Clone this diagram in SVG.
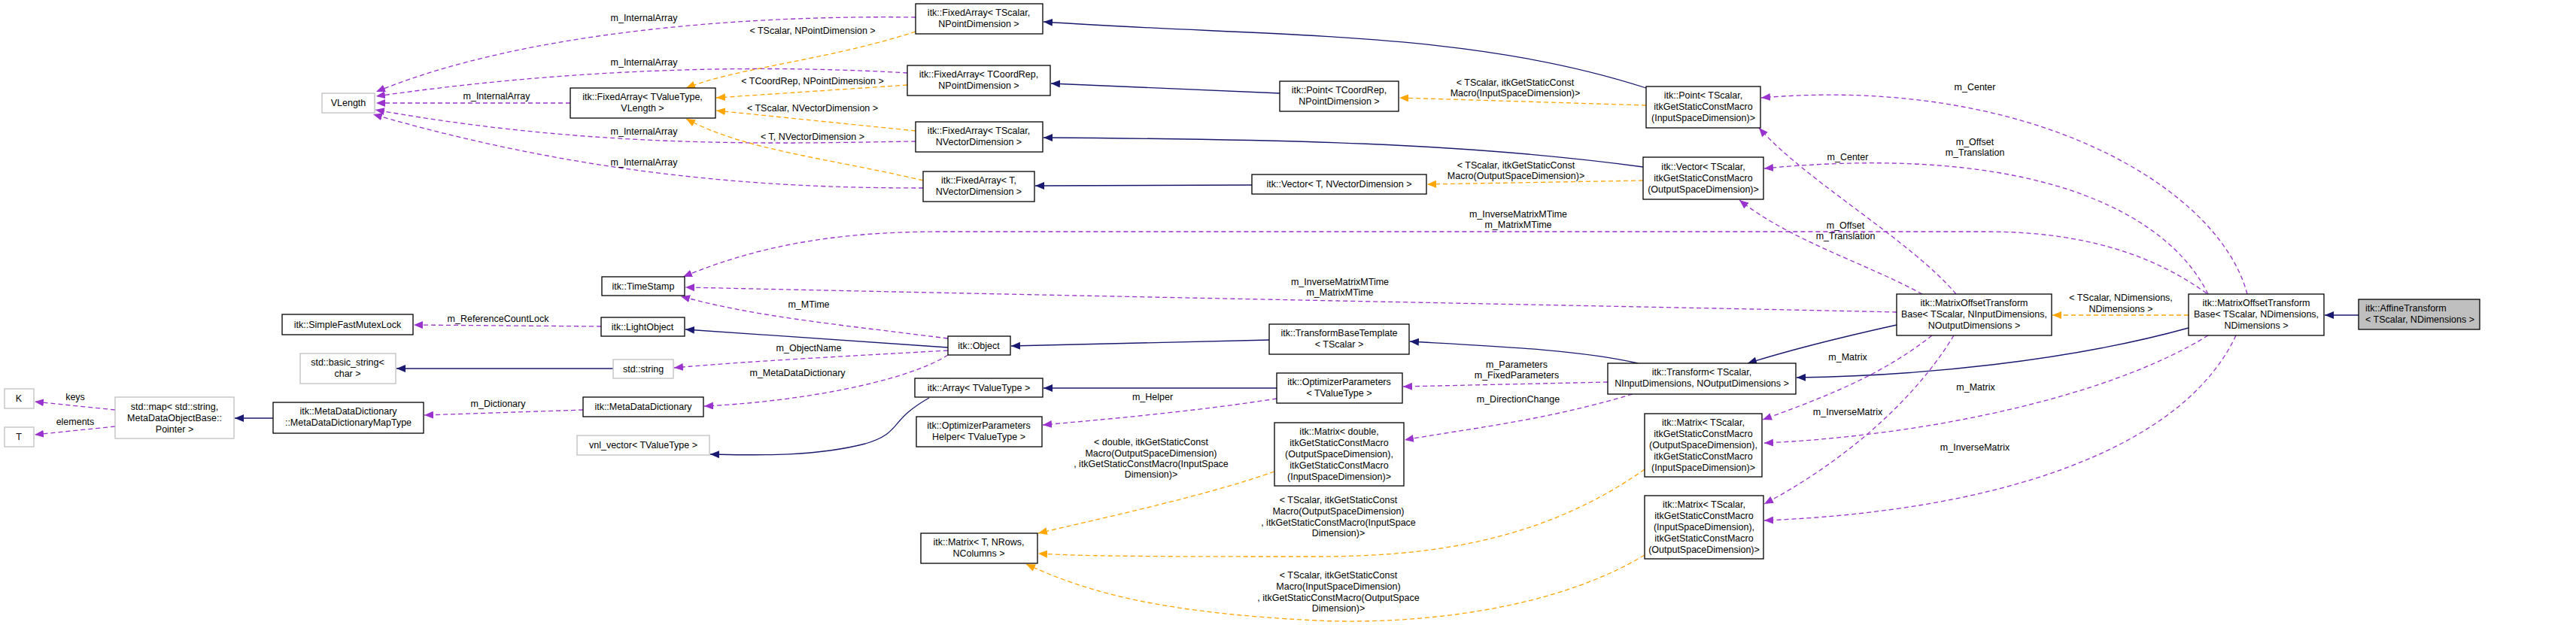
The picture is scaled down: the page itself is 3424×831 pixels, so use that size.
<svg xmlns="http://www.w3.org/2000/svg" width="3424" height="831" viewBox="0 0 3424 831">
<style>
text{font-family:"Liberation Sans",Arial,sans-serif;font-size:12.5px;fill:#000}
.n rect{fill:#fff;stroke:#000;stroke-width:1.3}
.g rect{fill:#fff;stroke:#bfbfbf;stroke-width:1.3}
.n text,.g text,.c text{text-anchor:middle}
.s{fill:none;stroke:#191970;stroke-width:1.3}
.p{fill:none;stroke:#9a32cd;stroke-width:1.3;stroke-dasharray:6,4}
.o{fill:none;stroke:#ffa500;stroke-width:1.3;stroke-dasharray:6,4}
</style>
<defs>
<marker id="ms" viewBox="0 0 12 10" refX="12" refY="5" markerWidth="12" markerHeight="10" markerUnits="userSpaceOnUse" orient="auto"><path d="M0,0L12,5L0,10z" fill="#191970"/></marker>
<marker id="mp" viewBox="0 0 12 10" refX="12" refY="5" markerWidth="12" markerHeight="10" markerUnits="userSpaceOnUse" orient="auto"><path d="M0,0L12,5L0,10z" fill="#9a32cd"/></marker>
<marker id="mo" viewBox="0 0 12 10" refX="12" refY="5" markerWidth="12" markerHeight="10" markerUnits="userSpaceOnUse" orient="auto"><path d="M0,0L12,5L0,10z" fill="#ffa500"/></marker>
</defs>
<rect width="3424" height="831" fill="#fff"/>
<g id="connectors" class="c">
<path class="p" marker-end="url(#mp)" d="M1217,23 C1000,20 700,40 500,122"/>
<text x="856" y="28">m_InternalArray</text>
<path class="p" marker-end="url(#mp)" d="M1206,97 C1050,88 800,85 500,128"/>
<text x="856" y="87">m_InternalArray</text>
<path class="p" marker-end="url(#mp)" d="M758,137 L500,137"/>
<text x="660" y="132">m_InternalArray</text>
<path class="p" marker-end="url(#mp)" d="M1217,188 C1050,190 800,200 499,146"/>
<text x="856" y="179">m_InternalArray</text>
<path class="p" marker-end="url(#mp)" d="M1227,250 C1050,250 800,240 496,152"/>
<text x="856" y="220">m_InternalArray</text>
<path class="o" marker-end="url(#mo)" d="M1217,42 C1100,80 980,90 912,117"/>
<text x="1080" y="45">&lt; TScalar, NPointDimension &gt;</text>
<path class="o" marker-end="url(#mo)" d="M1206,113 L952,130"/>
<text x="1080" y="112">&lt; TCoordRep, NPointDimension &gt;</text>
<path class="o" marker-end="url(#mo)" d="M1217,174 L952,147"/>
<text x="1080" y="148">&lt; TScalar, NVectorDimension &gt;</text>
<path class="o" marker-end="url(#mo)" d="M1227,240 C1100,210 990,200 912,158"/>
<text x="1080" y="186">&lt; T, NVectorDimension &gt;</text>
<path class="s" marker-end="url(#ms)" d="M2188,117 C1950,40 1700,50 1387,29"/>
<path class="s" marker-end="url(#ms)" d="M1701,124 L1397,111"/>
<path class="s" marker-end="url(#ms)" d="M2184,222 C1950,190 1700,185 1387,183"/>
<path class="s" marker-end="url(#ms)" d="M1664,246 L1376,247"/>
<path class="o" marker-end="url(#mo)" d="M2188,140 L1860,130"/>
<text x="2014" y="114">&lt; TScalar, itkGetStaticConst</text>
<text x="2014" y="128">Macro(InputSpaceDimension)&gt;</text>
<path class="o" marker-end="url(#mo)" d="M2184,240 L1897,245"/>
<text x="2015" y="224">&lt; TScalar, itkGetStaticConst</text>
<text x="2015" y="238">Macro(OutputSpaceDimension)&gt;</text>
<path class="p" marker-end="url(#mp)" d="M2987,391 C2950,250 2700,100 2341,130"/>
<text x="2625" y="120">m_Center</text>
<path class="p" marker-end="url(#mp)" d="M2600,391 C2540,320 2400,240 2338,170"/>
<text x="2456" y="213">m_Center</text>
<path class="p" marker-end="url(#mp)" d="M2935,391 C2880,280 2700,190 2345,224"/>
<text x="2625" y="193">m_Offset</text>
<text x="2625" y="207">m_Translation</text>
<path class="p" marker-end="url(#mp)" d="M2555,391 C2480,350 2380,320 2312,266"/>
<text x="2453" y="304">m_Offset</text>
<text x="2453" y="318">m_Translation</text>
<path class="p" marker-end="url(#mp)" d="M2933,390 C2850,330 2750,308 2640,308 L1250,308 C1100,308 1000,330 908,368"/>
<text x="2018" y="289">m_InverseMatrixMTime</text>
<text x="2018" y="303">m_MatrixMTime</text>
<path class="p" marker-end="url(#mp)" d="M2521,415 C2300,410 1500,395 911,382"/>
<text x="1781" y="379">m_InverseMatrixMTime</text>
<text x="1781" y="393">m_MatrixMTime</text>
<path class="p" marker-end="url(#mp)" d="M1260,450 C1100,430 1000,420 905,394"/>
<text x="1075" y="409">m_MTime</text>
<path class="s" marker-end="url(#ms)" d="M1260,462 L911,438"/>
<path class="p" marker-end="url(#mp)" d="M799,434 L550,432"/>
<text x="662" y="428">m_ReferenceCountLock</text>
<path class="p" marker-end="url(#mp)" d="M1260,466 C1100,475 1000,480 896,489"/>
<text x="1075" y="467">m_ObjectName</text>
<path class="s" marker-end="url(#ms)" d="M815,490 L527,490"/>
<path class="p" marker-end="url(#mp)" d="M1260,472 C1200,510 1050,535 936,540"/>
<text x="1060" y="500">m_MetaDataDictionary</text>
<path class="p" marker-end="url(#mp)" d="M775,545 L564,552"/>
<text x="662" y="541">m_Dictionary</text>
<path class="s" marker-end="url(#ms)" d="M363,556 L312,556"/>
<path class="p" marker-end="url(#mp)" d="M153,545 L46,534"/>
<text x="100" y="532">keys</text>
<path class="p" marker-end="url(#mp)" d="M153,567 L46,578"/>
<text x="100" y="565">elements</text>
<path class="s" marker-end="url(#ms)" d="M1235,529 C1180,560 1200,575 1150,590 C1080,608 1000,605 944,604"/>
<path class="s" marker-end="url(#ms)" d="M1687,452 L1344,460"/>
<path class="s" marker-end="url(#ms)" d="M1697,516 L1387,516"/>
<path class="p" marker-end="url(#mp)" d="M1697,530 C1600,545 1500,555 1386,565"/>
<text x="1532" y="532">m_Helper</text>
<path class="s" marker-end="url(#ms)" d="M2177,483 C2100,465 1980,460 1874,454"/>
<path class="p" marker-end="url(#mp)" d="M2137,508 L1865,514"/>
<text x="2016" y="489">m_Parameters</text>
<text x="2016" y="503">m_FixedParameters</text>
<path class="p" marker-end="url(#mp)" d="M2170,524 C2050,560 1950,570 1867,585"/>
<text x="2018" y="535">m_DirectionChange</text>
<path class="o" marker-end="url(#mo)" d="M1694,627 C1600,660 1460,690 1380,709"/>
<text x="1530" y="592">&lt; double, itkGetStaticConst</text>
<text x="1530" y="607">Macro(OutputSpaceDimension)</text>
<text x="1530" y="621">, itkGetStaticConstMacro(InputSpace</text>
<text x="1530" y="635">Dimension)&gt;</text>
<path class="o" marker-end="url(#mo)" d="M2186,624 C2050,720 1900,740 1750,740 C1550,740 1450,740 1380,736"/>
<text x="1779" y="669">&lt; TScalar, itkGetStaticConst</text>
<text x="1779" y="684">Macro(OutputSpaceDimension)</text>
<text x="1779" y="699">, itkGetStaticConstMacro(InputSpace</text>
<text x="1779" y="713">Dimension)&gt;</text>
<path class="o" marker-end="url(#mo)" d="M2186,738 C2050,820 1850,830 1750,825 C1550,815 1450,790 1364,750"/>
<text x="1779" y="769">&lt; TScalar, itkGetStaticConst</text>
<text x="1779" y="784">Macro(InputSpaceDimension)</text>
<text x="1779" y="799">, itkGetStaticConstMacro(OutputSpace</text>
<text x="1779" y="813">Dimension)&gt;</text>
<path class="s" marker-end="url(#ms)" d="M2521,432 C2440,450 2380,465 2323,483"/>
<path class="s" marker-end="url(#ms)" d="M2909,436 C2750,480 2550,500 2388,502"/>
<path class="o" marker-end="url(#mo)" d="M2909,419 L2728,419"/>
<text x="2819" y="400">&lt; TScalar, NDimensions,</text>
<text x="2819" y="415">NDimensions &gt;</text>
<path class="s" marker-end="url(#ms)" d="M3135,419 L3090,419"/>
<path class="p" marker-end="url(#mp)" d="M2568,446 C2500,500 2420,530 2343,558"/>
<text x="2456" y="479">m_Matrix</text>
<path class="p" marker-end="url(#mp)" d="M2597,446 C2540,540 2440,620 2345,670"/>
<text x="2456" y="552">m_InverseMatrix</text>
<path class="p" marker-end="url(#mp)" d="M2935,446 C2800,530 2550,580 2345,589"/>
<text x="2626" y="519">m_Matrix</text>
<path class="p" marker-end="url(#mp)" d="M2972,446 C2900,600 2650,680 2345,692"/>
<text x="2625" y="599">m_InverseMatrix</text>
</g>
<g id="VLength" class="g"><rect x="428" y="124" width="70" height="26"/><text x="463" y="141">VLength</text></g>
<g id="FixedArrayTValueType" class="n"><rect x="758" y="117" width="193" height="40"/><text x="854" y="133">itk::FixedArray&lt; TValueType,</text><text x="854" y="148">VLength &gt;</text></g>
<g id="FixedArrayTScalarNPoint" class="n"><rect x="1217" y="5" width="169" height="40"/><text x="1301" y="21">itk::FixedArray&lt; TScalar,</text><text x="1301" y="36">NPointDimension &gt;</text></g>
<g id="FixedArrayTCoordRep" class="n"><rect x="1206" y="87" width="190" height="40"/><text x="1301" y="103">itk::FixedArray&lt; TCoordRep,</text><text x="1301" y="118">NPointDimension &gt;</text></g>
<g id="PointTCoordRep" class="n"><rect x="1701" y="108" width="158" height="40"/><text x="1780" y="124">itk::Point&lt; TCoordRep,</text><text x="1780" y="139">NPointDimension &gt;</text></g>
<g id="FixedArrayTScalarNVector" class="n"><rect x="1217" y="162" width="169" height="40"/><text x="1301" y="178">itk::FixedArray&lt; TScalar,</text><text x="1301" y="193">NVectorDimension &gt;</text></g>
<g id="FixedArrayT" class="n"><rect x="1227" y="228" width="148" height="40"/><text x="1301" y="244">itk::FixedArray&lt; T,</text><text x="1301" y="259">NVectorDimension &gt;</text></g>
<g id="VectorT" class="n"><rect x="1664" y="232" width="232" height="26"/><text x="1780" y="249">itk::Vector&lt; T, NVectorDimension &gt;</text></g>
<g id="PointTScalar" class="n"><rect x="2188" y="115" width="152" height="55"/><text x="2264" y="131">itk::Point&lt; TScalar,</text><text x="2264" y="146">itkGetStaticConstMacro</text><text x="2264" y="161">(InputSpaceDimension)&gt;</text></g>
<g id="VectorTScalar" class="n"><rect x="2184" y="209" width="160" height="56"/><text x="2264" y="226">itk::Vector&lt; TScalar,</text><text x="2264" y="241">itkGetStaticConstMacro</text><text x="2264" y="256">(OutputSpaceDimension)&gt;</text></g>
<g id="TimeStamp" class="n"><rect x="800" y="368" width="110" height="25"/><text x="855" y="385">itk::TimeStamp</text></g>
<g id="SimpleFastMutexLock" class="n"><rect x="375" y="418" width="174" height="27"/><text x="462" y="436">itk::SimpleFastMutexLock</text></g>
<g id="LightObject" class="n"><rect x="799" y="422" width="111" height="25"/><text x="854" y="439">itk::LightObject</text></g>
<g id="basic_string" class="g"><rect x="399" y="470" width="127" height="40"/><text x="462" y="486">std::basic_string&lt;</text><text x="462" y="501">char &gt;</text></g>
<g id="stdstring" class="g"><rect x="815" y="478" width="80" height="25"/><text x="855" y="495">std::string</text></g>
<g id="K" class="g"><rect x="6" y="517" width="39" height="26"/><text x="25" y="534">K</text></g>
<g id="T" class="g"><rect x="6" y="568" width="39" height="26"/><text x="25" y="585">T</text></g>
<g id="stdmap" class="g"><rect x="153" y="528" width="158" height="55"/><text x="232" y="545">std::map&lt; std::string,</text><text x="232" y="560">MetaDataObjectBase::</text><text x="232" y="575">Pointer &gt;</text></g>
<g id="MapType" class="n"><rect x="363" y="535" width="200" height="41"/><text x="463" y="551">itk::MetaDataDictionary</text><text x="463" y="566">::MetaDataDictionaryMapType</text></g>
<g id="MetaDataDictionary" class="n"><rect x="775" y="528" width="160" height="26"/><text x="855" y="545">itk::MetaDataDictionary</text></g>
<g id="vnl_vector" class="g"><rect x="767" y="579" width="176" height="26"/><text x="855" y="596">vnl_vector&lt; TValueType &gt;</text></g>
<g id="Object" class="n"><rect x="1260" y="447" width="83" height="25"/><text x="1301" y="464">itk::Object</text></g>
<g id="TransformBaseTemplate" class="n"><rect x="1687" y="431" width="186" height="40"/><text x="1780" y="447">itk::TransformBaseTemplate</text><text x="1780" y="462">&lt; TScalar &gt;</text></g>
<g id="Array" class="n"><rect x="1216" y="503" width="170" height="25"/><text x="1301" y="520">itk::Array&lt; TValueType &gt;</text></g>
<g id="OptimizerParameters" class="n"><rect x="1697" y="496" width="167" height="40"/><text x="1780" y="512">itk::OptimizerParameters</text><text x="1780" y="527">&lt; TValueType &gt;</text></g>
<g id="OptimizerParametersHelper" class="n"><rect x="1218" y="554" width="167" height="40"/><text x="1301" y="570">itk::OptimizerParameters</text><text x="1301" y="585">Helper&lt; TValueType &gt;</text></g>
<g id="MatrixDouble" class="n"><rect x="1694" y="562" width="172" height="84"/><text x="1780" y="578">itk::Matrix&lt; double,</text><text x="1780" y="593">itkGetStaticConstMacro</text><text x="1780" y="608">(OutputSpaceDimension),</text><text x="1780" y="623">itkGetStaticConstMacro</text><text x="1780" y="638">(InputSpaceDimension)&gt;</text></g>
<g id="MatrixT" class="n"><rect x="1224" y="709" width="155" height="40"/><text x="1301" y="725">itk::Matrix&lt; T, NRows,</text><text x="1301" y="740">NColumns &gt;</text></g>
<g id="Transform" class="n"><rect x="2137" y="483" width="250" height="41"/><text x="2262" y="499">itk::Transform&lt; TScalar,</text><text x="2262" y="514">NInputDimensions, NOutputDimensions &gt;</text></g>
<g id="MatrixOutIn" class="n"><rect x="2186" y="550" width="156" height="84"/><text x="2264" y="566">itk::Matrix&lt; TScalar,</text><text x="2264" y="581">itkGetStaticConstMacro</text><text x="2264" y="596">(OutputSpaceDimension),</text><text x="2264" y="611">itkGetStaticConstMacro</text><text x="2264" y="626">(InputSpaceDimension)&gt;</text></g>
<g id="MatrixInOut" class="n"><rect x="2186" y="659" width="158" height="84"/><text x="2265" y="675">itk::Matrix&lt; TScalar,</text><text x="2265" y="690">itkGetStaticConstMacro</text><text x="2265" y="705">(InputSpaceDimension),</text><text x="2265" y="720">itkGetStaticConstMacro</text><text x="2265" y="735">(OutputSpaceDimension)&gt;</text></g>
<g id="MOTBInOut" class="n"><rect x="2521" y="391" width="206" height="55"/><text x="2624" y="407">itk::MatrixOffsetTransform</text><text x="2624" y="422">Base&lt; TScalar, NInputDimensions,</text><text x="2624" y="437">NOutputDimensions &gt;</text></g>
<g id="MOTBDims" class="n"><rect x="2909" y="391" width="180" height="55"/><text x="2999" y="407">itk::MatrixOffsetTransform</text><text x="2999" y="422">Base&lt; TScalar, NDimensions,</text><text x="2999" y="437">NDimensions &gt;</text></g>
<g id="AffineTransform"><rect x="3135" y="398" width="161" height="40" fill="#bfbfbf" stroke="#000" stroke-width="1.3"/><text x="3144" y="414">itk::AffineTransform</text><text x="3144" y="429">&lt; TScalar, NDimensions &gt;</text></g>
</svg>
